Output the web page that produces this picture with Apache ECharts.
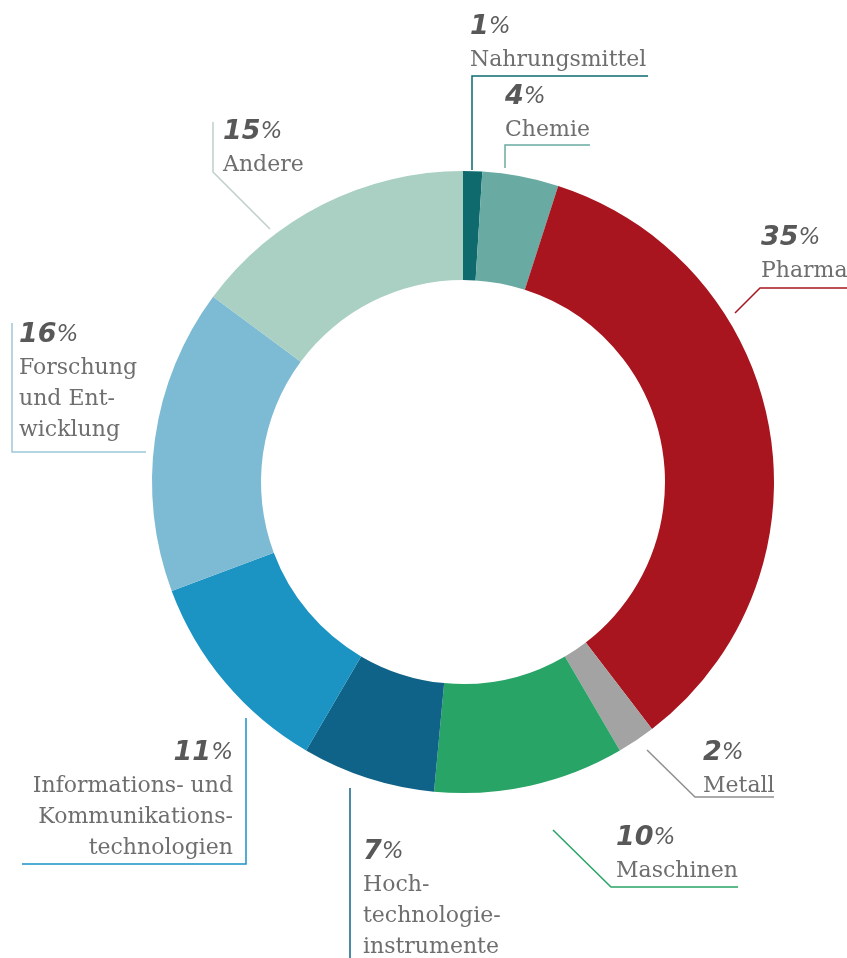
<!DOCTYPE html>
<html>
<head>
<meta charset="utf-8">
<script src="https://cdn.jsdelivr.net/npm/echarts@6/dist/echarts.min.js"></script>
<style>
  html, body { margin: 0; padding: 0; background: #ffffff; }
  #chart { width: 847px; height: 958px; }
</style>
</head>
<body>
<div id="chart"></div>
<script>
// ---- data ----
const categories = ['Nahrungsmittel', 'Chemie', 'Pharma', 'Metall', 'Maschinen',
  'Hochtechnologieinstrumente', 'Informations- und Kommunikationstechnologien',
  'Forschung und Entwicklung', 'Andere'];
const values = [1, 4, 35, 2, 10, 7, 11, 16, 15];
const labelTexts = [
  ['Nahrungsmittel'],
  ['Chemie'],
  ['Pharma'],
  ['Metall'],
  ['Maschinen'],
  ['Hoch-', 'technologie-', 'instrumente'],
  ['Informations- und', 'Kommunikations-', 'technologien'],
  ['Forschung', 'und Ent-', 'wicklung'],
  ['Andere']
];
const colors = ['#0e6a6c', '#69aaa2', '#a9151f', '#a3a3a3', '#27a466',
  '#0f6388', '#1b93c3', '#7dbad3', '#a9d0c2'];

// ---- layout (label anchor positions and leader lines) ----
const labelPos = [
  [470, 9, 'left'],
  [505, 79, 'left'],
  [761, 220, 'left'],
  [703, 735, 'left'],
  [616, 820, 'left'],
  [363, 834, 'left'],
  [233, 735, 'right'],
  [19, 317, 'left'],
  [223, 114, 'left']
];
const leaderLines = [
  [[472, 170], [472, 76], [648, 76]],
  [[505, 168], [505, 145], [590, 145]],
  [[735, 313], [760, 288], [847, 288]],
  [[647, 750], [695, 797], [774, 797]],
  [[553, 830], [611, 887], [738, 887]],
  [[350, 788], [350, 958]],
  [[246, 718], [246, 864], [22, 864]],
  [[12, 323], [12, 452], [146, 452]],
  [[270, 229], [213, 172], [213, 122]]
];
const lineColors = ['#0e6a6c', '#69aaa2', '#a9151f', '#8f8f8f', '#27a466',
  '#0f6388', '#1b93c3', '#9fc8da', '#bccfc8'];

const chart = echarts.init(document.getElementById('chart'), null, { renderer: 'canvas' });

const dataItems = categories.map((c, i) => ({
  name: c,
  value: values[i],
  itemStyle: { color: colors[i] }
}));

const graphics = leaderLines.map((pts, i) => ({
  type: 'polyline',
  shape: { points: pts },
  style: { stroke: lineColors[i], lineWidth: 1.5, fill: null },
  z: 10
}));

chart.setOption({
  backgroundColor: '#ffffff',
  animation: false,
  graphic: graphics,
  series: [{
    type: 'pie',
    center: [463, 482],
    radius: [202, 311],
    startAngle: 90,
    clockwise: true,
    data: dataItems,
    label: {
      show: true,
      position: 'inside',
      formatter: function (p) {
        const lines = labelTexts[p.dataIndex].map(t => '{n|' + t + '}').join('\n');
        return '{p|' + p.value + '}{s|%}\n' + lines;
      },
      rich: {
        p: { fontFamily: 'DejaVu Sans', fontWeight: 'bold', fontStyle: 'italic', fontSize: 27, color: '#585858', lineHeight: 36 },
        s: { fontFamily: 'DejaVu Sans', fontWeight: 'normal', fontStyle: 'italic', fontSize: 23, color: '#5e5e5e', lineHeight: 36 },
        n: { fontFamily: 'DejaVu Serif', fontSize: 22, color: '#6e6e6e', lineHeight: 31 }
      }
    },
    labelLine: { show: false },
    labelLayout: function (params) {
      const pos = labelPos[params.dataIndex];
      return { x: pos[0], y: pos[1], align: pos[2], verticalAlign: 'top' };
    },
    emphasis: { disabled: true }
  }]
});
</script>
</body>
</html>
